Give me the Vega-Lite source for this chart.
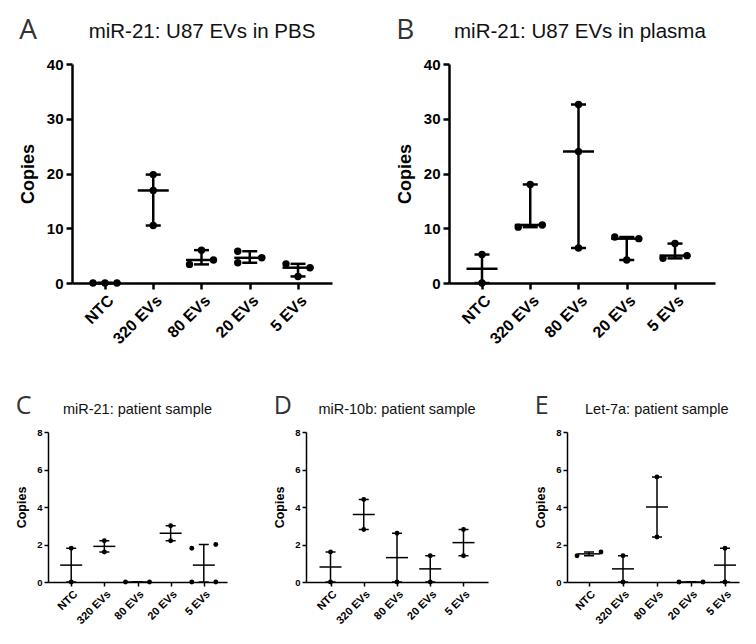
{
"$schema":"https://vega.github.io/schema/vega-lite/v6.json",
"padding":{"left":15,"top":16,"right":5,"bottom":5},
"background":"white",
"config":{
 "view":{"stroke":null},
 "axis":{"grid":false,"domainColor":"black","tickColor":"black","labelColor":"black","titleColor":"black","labelFont":"Liberation Sans","titleFont":"Liberation Sans","labelFontWeight":"bold","titleFontWeight":"bold","labelOverlap":false},
 "title":{"font":"Liberation Sans","color":"#111","fontWeight":"normal"}
},
"datasets":{"pts":[
 {"panel":"A","group":"NTC","copies":0,"j":-1},
 {"panel":"A","group":"NTC","copies":0,"j":0},
 {"panel":"A","group":"NTC","copies":0,"j":1},
 {"panel":"A","group":"320 EVs","copies":19.8,"j":0},
 {"panel":"A","group":"320 EVs","copies":16.9,"j":0},
 {"panel":"A","group":"320 EVs","copies":10.5,"j":0},
 {"panel":"A","group":"80 EVs","copies":6.0,"j":0},
 {"panel":"A","group":"80 EVs","copies":3.4,"j":-1},
 {"panel":"A","group":"80 EVs","copies":4.2,"j":1},
 {"panel":"A","group":"20 EVs","copies":5.8,"j":-1},
 {"panel":"A","group":"20 EVs","copies":3.7,"j":-1},
 {"panel":"A","group":"20 EVs","copies":4.6,"j":1},
 {"panel":"A","group":"5 EVs","copies":3.5,"j":-1},
 {"panel":"A","group":"5 EVs","copies":1.2,"j":0},
 {"panel":"A","group":"5 EVs","copies":2.8,"j":1},
 {"panel":"B","group":"NTC","copies":5.2,"j":0},
 {"panel":"B","group":"NTC","copies":0,"j":0},
 {"panel":"B","group":"320 EVs","copies":18.0,"j":0},
 {"panel":"B","group":"320 EVs","copies":10.2,"j":-1},
 {"panel":"B","group":"320 EVs","copies":10.6,"j":1},
 {"panel":"B","group":"80 EVs","copies":32.6,"j":0},
 {"panel":"B","group":"80 EVs","copies":24.0,"j":0},
 {"panel":"B","group":"80 EVs","copies":6.4,"j":0},
 {"panel":"B","group":"20 EVs","copies":8.4,"j":-1},
 {"panel":"B","group":"20 EVs","copies":8.1,"j":1},
 {"panel":"B","group":"20 EVs","copies":4.2,"j":0},
 {"panel":"B","group":"5 EVs","copies":7.2,"j":0},
 {"panel":"B","group":"5 EVs","copies":4.5,"j":-1},
 {"panel":"B","group":"5 EVs","copies":5.0,"j":1},
 {"panel":"C","group":"NTC","copies":1.8,"j":0},
 {"panel":"C","group":"NTC","copies":0,"j":0},
 {"panel":"C","group":"320 EVs","copies":2.2,"j":0},
 {"panel":"C","group":"320 EVs","copies":1.6,"j":0},
 {"panel":"C","group":"80 EVs","copies":0,"j":-1},
 {"panel":"C","group":"80 EVs","copies":0,"j":1},
 {"panel":"C","group":"20 EVs","copies":3.0,"j":0},
 {"panel":"C","group":"20 EVs","copies":2.2,"j":0},
 {"panel":"C","group":"5 EVs","copies":1.8,"j":-1},
 {"panel":"C","group":"5 EVs","copies":2.0,"j":1},
 {"panel":"C","group":"5 EVs","copies":0,"j":-1},
 {"panel":"C","group":"5 EVs","copies":0,"j":1},
 {"panel":"D","group":"NTC","copies":1.6,"j":0},
 {"panel":"D","group":"NTC","copies":0,"j":0},
 {"panel":"D","group":"320 EVs","copies":4.4,"j":0},
 {"panel":"D","group":"320 EVs","copies":2.8,"j":0},
 {"panel":"D","group":"80 EVs","copies":2.6,"j":0},
 {"panel":"D","group":"80 EVs","copies":0,"j":0},
 {"panel":"D","group":"20 EVs","copies":1.4,"j":0},
 {"panel":"D","group":"20 EVs","copies":0,"j":0},
 {"panel":"D","group":"5 EVs","copies":2.8,"j":0},
 {"panel":"D","group":"5 EVs","copies":1.4,"j":0},
 {"panel":"E","group":"NTC","copies":1.4,"j":-1},
 {"panel":"E","group":"NTC","copies":1.6,"j":1},
 {"panel":"E","group":"320 EVs","copies":1.4,"j":0},
 {"panel":"E","group":"320 EVs","copies":0,"j":0},
 {"panel":"E","group":"80 EVs","copies":5.6,"j":0},
 {"panel":"E","group":"80 EVs","copies":2.4,"j":0},
 {"panel":"E","group":"20 EVs","copies":0,"j":-1},
 {"panel":"E","group":"20 EVs","copies":0,"j":1},
 {"panel":"E","group":"5 EVs","copies":1.8,"j":0},
 {"panel":"E","group":"5 EVs","copies":0,"j":0}
]},
"spacing":46,
"center":true,
"vconcat":[
 {"hconcat":[
  {"title":{"text":"A","anchor":"start","frame":"bounds","fontSize":28,"font":"Open Sans","color":"#333","offset":-23},
   "vconcat":[
    {"width":260,"height":219,"data":{"name":"pts"},
     "title":{"text":"miR-21: U87 EVs in PBS","fontSize":20.5,"anchor":"middle","frame":"group","offset":15},
     "transform":[{"filter":"datum.panel === 'A'"}],
     "encoding":{"x":{"field":"group","type":"ordinal","sort":["NTC","320 EVs","80 EVs","20 EVs","5 EVs"],"scale":{"type":"point","padding":0.694,"align":0.4925},"axis":{"title":null,"labelAngle":-45,"domainWidth":2.5,"tickWidth":2.5,"tickSize":6,"labelFontSize":16,"labelPadding":3}}},
     "layer":[
      {"transform":[{"aggregate":[{"op":"min","field":"copies","as":"lo"},{"op":"max","field":"copies","as":"hi"}],"groupby":["group"]}],
       "mark":{"type":"rule","color":"black","strokeWidth":2.5},
       "encoding":{"y":{"field":"lo","type":"quantitative","title":"Copies","scale":{"domain":[0,40],"nice":false},"axis":{"values":[0,10,20,30,40],"tickCount":10,"domainWidth":2.5,"tickWidth":2.5,"tickSize":6,"labelFontSize":15,"titleFontSize":18,"labelPadding":3,"titlePadding":9}},"y2":{"field":"hi"}}},
      {"transform":[{"aggregate":[{"op":"median","field":"copies","as":"med"}],"groupby":["group"]}],
       "mark":{"type":"tick","color":"black","size":31,"thickness":2.5,"opacity":1},
       "encoding":{"y":{"field":"med","type":"quantitative","title":"Copies"}}},
      {"transform":[{"aggregate":[{"op":"min","field":"copies","as":"lo"}],"groupby":["group"]}],
       "mark":{"type":"tick","color":"black","size":15,"thickness":2.5,"opacity":1},
       "encoding":{"y":{"field":"lo","type":"quantitative","title":"Copies"}}},
      {"transform":[{"aggregate":[{"op":"max","field":"copies","as":"hi"}],"groupby":["group"]}],
       "mark":{"type":"tick","color":"black","size":15,"thickness":2.5,"opacity":1},
       "encoding":{"y":{"field":"hi","type":"quantitative","title":"Copies"}}},
      {"mark":{"type":"circle","size":55,"color":"black","opacity":1},
       "encoding":{"y":{"field":"copies","type":"quantitative","title":"Copies"},"xOffset":{"field":"j","type":"quantitative","scale":{"domain":[-1,1],"range":[-12,12]}}}}
     ]}
   ]},
  {"title":{"text":"B","anchor":"start","frame":"bounds","fontSize":28,"font":"Open Sans","color":"#333","offset":-23},
   "vconcat":[
    {"width":266,"height":219,"data":{"name":"pts"},
     "title":{"text":"miR-21: U87 EVs in plasma","fontSize":20.5,"anchor":"start","frame":"group","offset":15,"dx":5},
     "transform":[{"filter":"datum.panel === 'B'"}],
     "encoding":{"x":{"field":"group","type":"ordinal","sort":["NTC","320 EVs","80 EVs","20 EVs","5 EVs"],"scale":{"type":"point","padding":0.7565,"align":0.452},"axis":{"title":null,"labelAngle":-45,"domainWidth":2.5,"tickWidth":2.5,"tickSize":6,"labelFontSize":16,"labelPadding":3}}},
     "layer":[
      {"transform":[{"aggregate":[{"op":"min","field":"copies","as":"lo"},{"op":"max","field":"copies","as":"hi"}],"groupby":["group"]}],
       "mark":{"type":"rule","color":"black","strokeWidth":2.5},
       "encoding":{"y":{"field":"lo","type":"quantitative","title":"Copies","scale":{"domain":[0,40],"nice":false},"axis":{"values":[0,10,20,30,40],"tickCount":10,"domainWidth":2.5,"tickWidth":2.5,"tickSize":6,"labelFontSize":15,"titleFontSize":18,"labelPadding":3,"titlePadding":9}},"y2":{"field":"hi"}}},
      {"transform":[{"aggregate":[{"op":"median","field":"copies","as":"med"}],"groupby":["group"]}],
       "mark":{"type":"tick","color":"black","size":31,"thickness":2.5,"opacity":1},
       "encoding":{"y":{"field":"med","type":"quantitative","title":"Copies"}}},
      {"transform":[{"aggregate":[{"op":"min","field":"copies","as":"lo"}],"groupby":["group"]}],
       "mark":{"type":"tick","color":"black","size":15,"thickness":2.5,"opacity":1},
       "encoding":{"y":{"field":"lo","type":"quantitative","title":"Copies"}}},
      {"transform":[{"aggregate":[{"op":"max","field":"copies","as":"hi"}],"groupby":["group"]}],
       "mark":{"type":"tick","color":"black","size":15,"thickness":2.5,"opacity":1},
       "encoding":{"y":{"field":"hi","type":"quantitative","title":"Copies"}}},
      {"mark":{"type":"circle","size":55,"color":"black","opacity":1},
       "encoding":{"y":{"field":"copies","type":"quantitative","title":"Copies"},"xOffset":{"field":"j","type":"quantitative","scale":{"domain":[-1,1],"range":[-12,12]}}}}
     ]}
   ]}
 ],"spacing":64},
 {"hconcat":[
  {"title":{"text":"C","anchor":"start","frame":"bounds","fontSize":25,"font":"Open Sans","color":"#333","offset":-17},
   "vconcat":[
    {"width":179,"height":150,"data":{"name":"pts"},
     "title":{"text":"miR-21: patient sample","fontSize":14.5,"anchor":"middle","frame":"group","offset":10},
     "transform":[{"filter":"datum.panel === 'C'"}],
     "encoding":{"x":{"field":"group","type":"ordinal","sort":["NTC","320 EVs","80 EVs","20 EVs","5 EVs"],"scale":{"type":"point","padding":0.7},"axis":{"title":null,"labelAngle":-45,"domainWidth":1.5,"tickWidth":1.5,"tickSize":4,"labelFontSize":11,"labelPadding":2}}},
     "layer":[
      {"transform":[{"aggregate":[{"op":"min","field":"copies","as":"lo"},{"op":"max","field":"copies","as":"hi"}],"groupby":["group"]}],
       "mark":{"type":"rule","color":"black","strokeWidth":1.5},
       "encoding":{"y":{"field":"lo","type":"quantitative","title":"Copies","scale":{"domain":[0,8],"nice":false},"axis":{"values":[0,2,4,6,8],"tickCount":10,"domainWidth":1.5,"tickWidth":1.5,"tickSize":4,"labelFontSize":9.5,"titleFontSize":12.5,"labelPadding":2,"titlePadding":8}},"y2":{"field":"hi"}}},
      {"transform":[{"aggregate":[{"op":"median","field":"copies","as":"med"}],"groupby":["group"]}],
       "mark":{"type":"tick","color":"black","size":22,"thickness":1.5,"opacity":1},
       "encoding":{"y":{"field":"med","type":"quantitative","title":"Copies"}}},
      {"transform":[{"aggregate":[{"op":"min","field":"copies","as":"lo"}],"groupby":["group"]}],
       "mark":{"type":"tick","color":"black","size":10,"thickness":1.5,"opacity":1},
       "encoding":{"y":{"field":"lo","type":"quantitative","title":"Copies"}}},
      {"transform":[{"aggregate":[{"op":"max","field":"copies","as":"hi"}],"groupby":["group"]}],
       "mark":{"type":"tick","color":"black","size":10,"thickness":1.5,"opacity":1},
       "encoding":{"y":{"field":"hi","type":"quantitative","title":"Copies"}}},
      {"mark":{"type":"circle","size":24,"color":"black","opacity":1},
       "encoding":{"y":{"field":"copies","type":"quantitative","title":"Copies"},"xOffset":{"field":"j","type":"quantitative","scale":{"domain":[-1,1],"range":[-8.5,8.5]}}}}
     ]}
   ]},
  {"title":{"text":"D","anchor":"start","frame":"bounds","fontSize":25,"font":"Open Sans","color":"#333","offset":-17},
   "vconcat":[
    {"width":182,"height":150,"data":{"name":"pts"},
     "title":{"text":"miR-10b: patient sample","fontSize":14.5,"anchor":"middle","frame":"group","offset":10},
     "transform":[{"filter":"datum.panel === 'D'"}],
     "encoding":{"x":{"field":"group","type":"ordinal","sort":["NTC","320 EVs","80 EVs","20 EVs","5 EVs"],"scale":{"type":"point","padding":0.737},"axis":{"title":null,"labelAngle":-45,"domainWidth":1.5,"tickWidth":1.5,"tickSize":4,"labelFontSize":11,"labelPadding":2}}},
     "layer":[
      {"transform":[{"aggregate":[{"op":"min","field":"copies","as":"lo"},{"op":"max","field":"copies","as":"hi"}],"groupby":["group"]}],
       "mark":{"type":"rule","color":"black","strokeWidth":1.5},
       "encoding":{"y":{"field":"lo","type":"quantitative","title":"Copies","scale":{"domain":[0,8],"nice":false},"axis":{"values":[0,2,4,6,8],"tickCount":10,"domainWidth":1.5,"tickWidth":1.5,"tickSize":4,"labelFontSize":9.5,"titleFontSize":12.5,"labelPadding":2,"titlePadding":8}},"y2":{"field":"hi"}}},
      {"transform":[{"aggregate":[{"op":"median","field":"copies","as":"med"}],"groupby":["group"]}],
       "mark":{"type":"tick","color":"black","size":22,"thickness":1.5,"opacity":1},
       "encoding":{"y":{"field":"med","type":"quantitative","title":"Copies"}}},
      {"transform":[{"aggregate":[{"op":"min","field":"copies","as":"lo"}],"groupby":["group"]}],
       "mark":{"type":"tick","color":"black","size":10,"thickness":1.5,"opacity":1},
       "encoding":{"y":{"field":"lo","type":"quantitative","title":"Copies"}}},
      {"transform":[{"aggregate":[{"op":"max","field":"copies","as":"hi"}],"groupby":["group"]}],
       "mark":{"type":"tick","color":"black","size":10,"thickness":1.5,"opacity":1},
       "encoding":{"y":{"field":"hi","type":"quantitative","title":"Copies"}}},
      {"mark":{"type":"circle","size":24,"color":"black","opacity":1},
       "encoding":{"y":{"field":"copies","type":"quantitative","title":"Copies"},"xOffset":{"field":"j","type":"quantitative","scale":{"domain":[-1,1],"range":[-8.5,8.5]}}}}
     ]}
   ]},
  {"title":{"text":"E","anchor":"start","frame":"bounds","fontSize":25,"font":"Open Sans","color":"#333","offset":-17},
   "vconcat":[
    {"width":172,"height":150,"data":{"name":"pts"},
     "title":{"text":"Let-7a: patient sample","fontSize":14.5,"anchor":"start","frame":"group","offset":10,"dx":18},
     "transform":[{"filter":"datum.panel === 'E'"}],
     "encoding":{"x":{"field":"group","type":"ordinal","sort":["NTC","320 EVs","80 EVs","20 EVs","5 EVs"],"scale":{"type":"point","padding":0.53,"align":0.611},"axis":{"title":null,"labelAngle":-45,"domainWidth":1.5,"tickWidth":1.5,"tickSize":4,"labelFontSize":11,"labelPadding":2}}},
     "layer":[
      {"transform":[{"aggregate":[{"op":"min","field":"copies","as":"lo"},{"op":"max","field":"copies","as":"hi"}],"groupby":["group"]}],
       "mark":{"type":"rule","color":"black","strokeWidth":1.5},
       "encoding":{"y":{"field":"lo","type":"quantitative","title":"Copies","scale":{"domain":[0,8],"nice":false},"axis":{"values":[0,2,4,6,8],"tickCount":10,"domainWidth":1.5,"tickWidth":1.5,"tickSize":4,"labelFontSize":9.5,"titleFontSize":12.5,"labelPadding":2,"titlePadding":8}},"y2":{"field":"hi"}}},
      {"transform":[{"aggregate":[{"op":"median","field":"copies","as":"med"}],"groupby":["group"]}],
       "mark":{"type":"tick","color":"black","size":22,"thickness":1.5,"opacity":1},
       "encoding":{"y":{"field":"med","type":"quantitative","title":"Copies"}}},
      {"transform":[{"aggregate":[{"op":"min","field":"copies","as":"lo"}],"groupby":["group"]}],
       "mark":{"type":"tick","color":"black","size":10,"thickness":1.5,"opacity":1},
       "encoding":{"y":{"field":"lo","type":"quantitative","title":"Copies"}}},
      {"transform":[{"aggregate":[{"op":"max","field":"copies","as":"hi"}],"groupby":["group"]}],
       "mark":{"type":"tick","color":"black","size":10,"thickness":1.5,"opacity":1},
       "encoding":{"y":{"field":"hi","type":"quantitative","title":"Copies"}}},
      {"mark":{"type":"circle","size":24,"color":"black","opacity":1},
       "encoding":{"y":{"field":"copies","type":"quantitative","title":"Copies"},"xOffset":{"field":"j","type":"quantitative","scale":{"domain":[-1,1],"range":[-8.5,8.5]}}}}
     ]}
   ]}
 ],"spacing":46}
]
}
